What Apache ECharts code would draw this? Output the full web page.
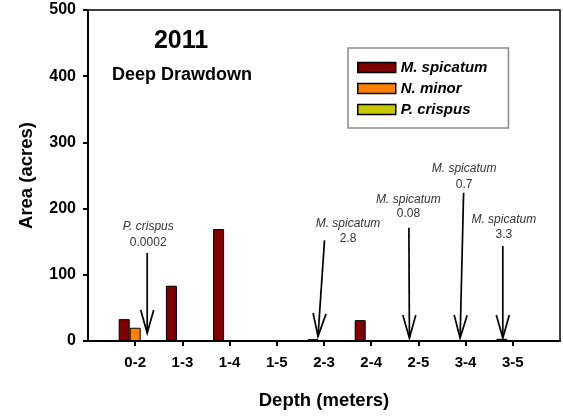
<!DOCTYPE html>
<html><head><meta charset="utf-8">
<script src="https://cdn.jsdelivr.net/npm/echarts@6/dist/echarts.min.js"></script>
<style>html,body{margin:0;padding:0;background:#fff}#c{width:563px;height:420px}</style>
</head><body><div id="c"></div>
<script>
// ---- data ----
const categories = ['0-2', '1-3', '1-4', '1-5', '2-3', '2-4', '2-5', '3-4', '3-5'];
const seriesNames = ['M. spicatum', 'N. minor', 'P. crispus'];
const mSpicatum = [33, 83.5, 169, 0, 2.8, 31.5, 0.08, 0.7, 3.3];
const nMinor = [20, 0, 0, 0, 0, 0, 0, 0, 0];
const pCrispus = [0.0002, 0, 0, 0, 0, 0, 0, 0, 0];
const yTicks = [0, 100, 200, 300, 400, 500];
const titleYear = '2011';
const titleSub = 'Deep Drawdown';
const xTitle = 'Depth (meters)';
const yTitle = 'Area (acres)';
const annCategories = ['0-2', '2-3', '2-5', '3-4', '3-5'];
const annSpecies = ['P. crispus', 'M. spicatum', 'M. spicatum', 'M. spicatum', 'M. spicatum'];
const annValues = ['0.0002', '2.8', '0.08', '0.7', '3.3'];

// ---- annotation layout (pixel offsets from tick, y in axis units) ----
const annLayout = [
  { tdx: 13, nameY: 172, valY: 148, top: [12, 133], tip: [12, 12] },
  { tdx: 24, nameY: 178, valY: 154, top: [0.5, 152], tip: [-6, 7] },
  { tdx: -10, nameY: 214, valY: 192, top: [-9.5, 171], tip: [-9, 4.5] },
  { tdx: -1.5, nameY: 261, valY: 236, top: [-2, 224], tip: [-5.5, 4.5] },
  { tdx: -9, nameY: 184, valY: 160, top: [-10, 143.5], tip: [-10, 4.5] }
];

const FONT = 'Liberation Sans, Arial, sans-serif';
const colors = ['#7f0000', '#ff8000', '#c8c800'];
const axisCats = [''].concat(categories, ['']);
const pad = arr => [null].concat(arr, [null]);
const seriesData = [mSpicatum, nMinor, pCrispus];

const chart = echarts.init(document.getElementById('c'), null, { renderer: 'canvas' });
chart.setOption({
  animation: false,
  backgroundColor: '#fff',
  textStyle: { fontFamily: FONT },
  title: [
    { text: titleYear, left: 181, top: 29, textAlign: 'center', padding: 0,
      textStyle: { fontSize: 25, fontWeight: 'bold', color: '#000', fontFamily: FONT } },
    { text: titleSub, left: 182, top: 66, textAlign: 'center', padding: 0,
      textStyle: { fontSize: 18, fontWeight: 'bold', color: '#000', fontFamily: FONT } }
  ],
  legend: {
    orient: 'vertical', left: 348, top: 48, data: seriesNames,
    itemWidth: 38, itemHeight: 10, itemGap: 6, icon: 'rect',
    padding: [12, 21, 11, 9],
    backgroundColor: '#fff', borderColor: '#8a8a8a', borderWidth: 1.5,
    itemStyle: { borderColor: '#000', borderWidth: 1.5 },
    textStyle: { fontSize: 15, fontWeight: 'bold', fontStyle: 'italic', color: '#000', fontFamily: FONT }
  },
  grid: { left: 88, right: 2, top: 10, bottom: 79, show: true, borderColor: '#000', borderWidth: 1.5, backgroundColor: 'transparent' },
  xAxis: {
    type: 'category', data: axisCats, boundaryGap: false,
    name: xTitle, nameLocation: 'middle', nameGap: 50,
    nameTextStyle: { fontSize: 18.5, fontWeight: 'bold', color: '#000', fontFamily: FONT },
    axisLine: { lineStyle: { color: '#000', width: 2 } },
    axisTick: { show: true, inside: false, length: 5, lineStyle: { color: '#000', width: 2 },
      interval: (i) => i > 0 && i < axisCats.length - 1 },
    axisLabel: { fontSize: 15, fontWeight: 'bold', color: '#000', margin: 14, interval: 0, fontFamily: FONT },
    splitLine: { show: false }
  },
  yAxis: {
    type: 'value', min: yTicks[0], max: yTicks[yTicks.length - 1], interval: yTicks[1] - yTicks[0],
    name: yTitle, nameLocation: 'middle', nameGap: 52, nameRotate: 90,
    nameTextStyle: { fontSize: 18.5, fontWeight: 'bold', color: '#000', fontFamily: FONT },
    axisLine: { show: true, lineStyle: { color: '#000', width: 2 } },
    axisTick: { show: true, inside: false, length: 5, lineStyle: { color: '#000', width: 2 } },
    axisLabel: { fontSize: 16, fontWeight: 'bold', color: '#000', margin: 12, fontFamily: FONT },
    splitLine: { show: false }
  },
  series: seriesNames.map((n, i) => ({
    name: n, type: 'bar', data: pad(seriesData[i]),
    barWidth: 11, barGap: '0%',
    itemStyle: { color: colors[i], borderColor: '#000', borderWidth: 1 }
  }))
});

// ---- annotations drawn from the chart's own scales ----
function px(cat, dx, v) {
  const p = chart.convertToPixel({ xAxisIndex: 0, yAxisIndex: 0 }, [axisCats.indexOf(cat), v]);
  return [p[0] + dx, p[1]];
}
const graphics = [];
annCategories.forEach((cat, k) => {
  const L = annLayout[k];
  const a = px(cat, L.top[0], L.top[1]);
  const b = px(cat, L.tip[0], L.tip[1]);
  const nm = px(cat, L.tdx, L.nameY);
  const vl = px(cat, L.tdx, L.valY);
  let dx = b[0] - a[0], dy = b[1] - a[1];
  const len = Math.hypot(dx, dy); dx /= len; dy /= len;
  const hl = 23, hw = 6.5;
  const bx = b[0] - dx * hl, by = b[1] - dy * hl;
  graphics.push({ type: 'polyline', shape: { points: [a, b] }, style: { stroke: '#000', lineWidth: 1.7, fill: null } });
  graphics.push({ type: 'polyline', shape: { points: [[bx - dy * hw, by + dx * hw], b, [bx + dy * hw, by - dx * hw]] },
    style: { stroke: '#000', lineWidth: 1.7, fill: null } });
  graphics.push({ type: 'text', x: nm[0], y: nm[1], style: { text: annSpecies[k], align: 'center', verticalAlign: 'middle',
    fontSize: 12, fontStyle: 'italic', fontFamily: FONT, fill: '#333' } });
  graphics.push({ type: 'text', x: vl[0], y: vl[1], style: { text: annValues[k], align: 'center', verticalAlign: 'middle',
    fontSize: 12, fontFamily: FONT, fill: '#333' } });
});
chart.setOption({ graphic: graphics });
</script>
</body></html>
